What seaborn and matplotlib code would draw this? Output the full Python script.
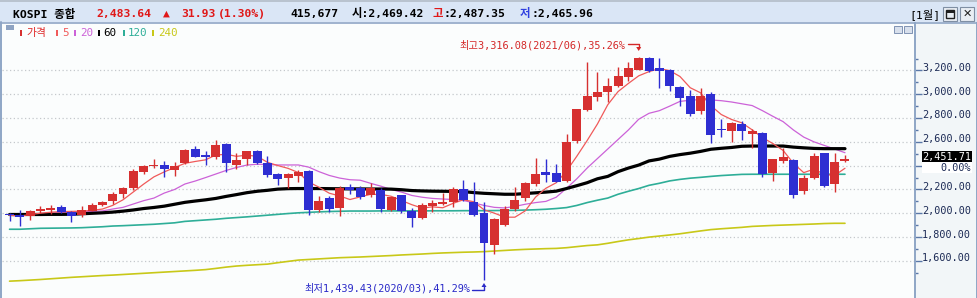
import numpy as np
import pandas as pd
import matplotlib
matplotlib.use('Agg')
import matplotlib.pyplot as plt
import seaborn as sns
from matplotlib.patches import Rectangle, Polygon
from matplotlib.lines import Line2D
import matplotlib.transforms as mtrans

# ---------------- data (monthly KOSPI candles 2016/05 .. 2023/02) ----------------
months = pd.period_range('2016-05', '2023-02', freq='M').strftime('%Y/%m').tolist()

open_ = [1994, 1983, 1975, 2019, 2030, 2055, 2013, 1986, 2019, 2070,
         2106, 2162, 2215, 2350, 2397, 2405, 2364, 2425, 2540, 2490,
         2476, 2582, 2408, 2454, 2523, 2425, 2330, 2299, 2313, 2355,
         2028, 2126, 2047, 2218, 2215, 2156, 2196, 2028, 2151, 2022,
         1963, 2064, 2078, 2097, 2204, 2097, 2000, 1736, 1902, 2034,
         2131, 2244, 2347, 2341, 2271, 2610, 2868, 2979, 3019, 3072,
         3147, 3204, 3307, 3220, 3204, 3061, 2985, 2859, 3002, 2708,
         2694, 2750, 2666, 2672, 2341, 2442, 2448, 2190, 2299, 2504,
         2249, 2442]
high = [2000, 2030, 2030, 2063, 2073, 2069, 2020, 2061, 2088, 2100,
        2178, 2220, 2372, 2408, 2454, 2439, 2430, 2540, 2565, 2523,
        2616, 2593, 2509, 2525, 2530, 2481, 2335, 2335, 2364, 2360,
        2145, 2145, 2229, 2246, 2228, 2252, 2210, 2140, 2155, 2042,
        2090, 2112, 2173, 2224, 2280, 2263, 2097, 1958, 2061, 2218,
        2260, 2462, 2456, 2418, 2664, 2880, 3273, 3189, 3134, 3226,
        3268, 3316.08, 3311, 3302, 3215, 3069, 3036, 3052, 3018, 2790,
        2769, 2773, 2706, 2680, 2460, 2546, 2456, 2319, 2504, 2506,
        2504, 2490]
low = [1937, 1892, 1945, 2000, 1995, 2000, 1931, 1967, 2016, 2061,
       2075, 2125, 2196, 2332, 2383, 2307, 2310, 2415, 2470, 2406,
       2457, 2350, 2370, 2406, 2412, 2305, 2238, 2215, 2266, 1986,
       2013, 2011, 1980, 2162, 2122, 2134, 2013, 2020, 2000, 1888,
       1950, 2013, 2070, 2055, 2100, 1980, 1439.43, 1658, 1890, 2020,
       2100, 2230, 2265, 2260, 2265, 2590, 2860, 2946, 2932, 3058,
       3111, 3200, 3190, 3050, 3030, 2901, 2820, 2834, 2593, 2643,
       2602, 2616, 2546, 2307, 2274, 2420, 2131, 2165, 2290, 2225,
       2181, 2433]
close = [1983, 1970, 2016, 2034, 2043, 2008, 1980, 2026, 2067, 2097,
         2162, 2215, 2355, 2397, 2402, 2370, 2397, 2532, 2476, 2470,
         2574, 2425, 2448, 2523, 2425, 2322, 2288, 2330, 2347, 2028,
         2103, 2036, 2215, 2196, 2139, 2210, 2036, 2134, 2019, 1963,
         2067, 2089, 2095, 2204, 2112, 1986, 1753, 1952, 2034, 2112,
         2252, 2330, 2324, 2265, 2602, 2876, 2988, 3021, 3072, 3156,
         3218, 3307, 3198, 3198, 3072, 2971, 2834, 2985, 2658, 2702,
         2761, 2694, 2691, 2330, 2456, 2470, 2154, 2297, 2481, 2229,
         2431, 2454]
ma20 = [1990, 1992, 1995, 1998, 2002, 2006, 2010, 2014, 2016, 2020,
        2036, 2050, 2078, 2106, 2128, 2170, 2200, 2246, 2271, 2300,
        2330, 2360, 2385, 2405, 2412, 2410, 2406, 2406, 2406, 2388,
        2350, 2318, 2296, 2282, 2278, 2252, 2228, 2200, 2178, 2150,
        2135, 2125, 2120, 2116, 2108, 2088, 2066, 2050, 2045, 2058,
        2076, 2090, 2100, 2135, 2210, 2290, 2380, 2460, 2540, 2620,
        2700, 2790, 2840, 2862, 2900, 2940, 2950, 2955, 2952, 2946,
        2935, 2920, 2905, 2862, 2815, 2770, 2700, 2640, 2600, 2570,
        2540, 2509]
ma60 = [1990, 1990, 1990, 1990, 1991, 1991, 1992, 1996, 2000, 2004,
        2010, 2018, 2028, 2040, 2049, 2060, 2076, 2092, 2103, 2113,
        2125, 2142, 2157, 2173, 2185, 2193, 2203, 2207, 2208, 2208,
        2208, 2207, 2206, 2205, 2205, 2204, 2204, 2203, 2198, 2191,
        2188, 2186, 2185, 2184, 2182, 2174, 2168, 2164, 2160, 2160,
        2166, 2172, 2178, 2186, 2208, 2232, 2257, 2290, 2310, 2350,
        2380, 2405, 2440, 2455, 2478, 2493, 2505, 2520, 2538, 2546,
        2553, 2563, 2565, 2565, 2565, 2565, 2556, 2550, 2545, 2543,
        2543, 2543]
ma120 = [1866, 1866, 1870, 1874, 1875, 1876, 1877, 1879, 1883, 1887,
         1893, 1896, 1900, 1904, 1908, 1914, 1920, 1932, 1938, 1944,
         1950, 1958, 1964, 1970, 1977, 1984, 1991, 1998, 2004, 2008,
         2012, 2015, 2017, 2019, 2019, 2019, 2020, 2020, 2020, 2020,
         2020, 2021, 2021, 2021, 2022, 2022, 2022, 2023, 2024, 2025,
         2027, 2030, 2034, 2040, 2048, 2066, 2090, 2110, 2128, 2160,
         2185, 2208, 2235, 2252, 2272, 2285, 2295, 2302, 2310, 2317,
         2322, 2327, 2328, 2328, 2328, 2328, 2328, 2328, 2328, 2328,
         2328, 2328]
ma240 = [1430, 1434, 1439, 1444, 1450, 1456, 1462, 1467, 1472, 1477,
         1481, 1486, 1491, 1496, 1501, 1506, 1511, 1516, 1521, 1527,
         1537, 1548, 1557, 1563, 1568, 1573, 1585, 1596, 1607, 1612,
         1617, 1622, 1627, 1630, 1633, 1637, 1641, 1645, 1650, 1654,
         1658, 1663, 1667, 1670, 1673, 1675, 1678, 1683, 1688, 1693,
         1697, 1700, 1703, 1705, 1711, 1720, 1729, 1735, 1748, 1763,
         1777, 1788, 1800, 1809, 1818, 1828, 1840, 1852, 1863, 1870,
         1876, 1882, 1890, 1894, 1898, 1901, 1904, 1907, 1910, 1914,
         1916, 1916]

axis_labels = [1600, 1800, 2000, 2200, 2600, 2800, 3000, 3200]
grid_levels = [1600, 1800, 2000, 2200, 2400, 2600, 2800, 3000, 3200]
prev_close = 2451.71
hdr_name = 'KOSPI 종합'
hdr_price = '2,483.64'
hdr_change = '31.93'
hdr_pct = '(1.30%)'
hdr_volume = '415,677'
hdr_open = '2,469.42'
hdr_high = '2,487.35'
hdr_low = '2,465.96'
legend_items = ['가격', '5', '20', '60', '120', '240']

# ---------------- style ----------------
RED = '#d63030'
BLUE = '#2e2ed2'
C_MA5 = '#f05a5a'
C_MA20 = '#cc62d8'
C_MA60 = '#000000'
C_MA120 = '#2eae98'
C_MA240 = '#c8c818'
NAVY = '#1c2a55'
BORDER = '#8fa6c6'

sns.set_theme(style='white')
plt.rcParams['font.family'] = ['DejaVu Sans Mono', 'Noto Sans CJK KR']

W, H = 977, 298
fig = plt.figure(figsize=(W / 100, H / 100), dpi=100)
fig.patch.set_facecolor('#fbfdfd')


def fx(px):
    return px / W


def fy(py):
    return 1 - py / H


PLOT_L, PLOT_R, PLOT_T = 2, 915, 23
ax = fig.add_axes([fx(PLOT_L), 0, fx(PLOT_R - PLOT_L), (H - PLOT_T) / H])
ax.set_facecolor('#fbfdfd')

# scale: 2000 at pixel row 213.3, 8.4 points per pixel; candle i at x = 9.55 + 10.314 i
PX = 8.4
Y0_PIX = 213.3
ymin = 2000 - (H - Y0_PIX) * PX
ymax = 2000 + (Y0_PIX - PLOT_T) * PX
STEP, X0 = 10.314, 9.55
ax.set_xlim((PLOT_L - X0) / STEP, (PLOT_R - X0) / STEP)
ax.set_ylim(ymin, ymax)

for v in grid_levels:
    ax.axhline(v, color='#c4c8cc', lw=0.9, ls=(0, (1, 2)), zorder=1)

idx = np.arange(len(months))
o = np.array(open_, float)
h = np.array(high, float)
l = np.array(low, float)
c = np.array(close, float)
ma5 = pd.Series(c).rolling(5, min_periods=1).mean().values

sns.lineplot(x=idx, y=np.array(ma240), ax=ax, color=C_MA240, lw=1.2, zorder=2)
sns.lineplot(x=idx, y=np.array(ma120), ax=ax, color=C_MA120, lw=1.2, zorder=2)
sns.lineplot(x=idx, y=np.array(ma20), ax=ax, color=C_MA20, lw=0.9, zorder=2)
sns.lineplot(x=idx, y=np.array(ma60), ax=ax, color=C_MA60, lw=2.3, zorder=2)
sns.lineplot(x=idx, y=ma5, ax=ax, color=C_MA5, lw=0.9, zorder=2)

up = c >= o
cols = np.where(up, RED, BLUE)
body_lo = np.minimum(o, c)
body_h = np.maximum(np.abs(c - o), PX * 1.0)
ax.vlines(idx, l, h, colors=cols, lw=1.0, zorder=3)
ax.bar(idx, body_h, bottom=body_lo, width=0.87, color=cols, linewidth=0, zorder=4)

for s in ax.spines.values():
    s.set_visible(False)
ax.set_xticks([])
ax.set_yticks([])

# ---------------- right price axis panel ----------------
ax2 = fig.add_axes([fx(915), 0, fx(W - 915), (H - PLOT_T) / H])
ax2.set_facecolor('#f2f6f8')
ax2.set_ylim(ymin, ymax)
ax2.set_xlim(0, 1)
ax2.set_xticks([])
ax2.set_yticks(grid_levels)
ax2.set_yticks([v + 100 for v in [1400] + grid_levels], minor=True)
ax2.tick_params(axis='y', which='major', direction='in', length=5, width=1,
                color='#5a78a8', left=True, right=False, labelleft=False)
ax2.tick_params(axis='y', which='minor', direction='in', length=2.5, width=1,
                color='#5a78a8', left=True, right=False, labelleft=False)
for k, s in ax2.spines.items():
    if k in ('left', 'right'):
        s.set_visible(True)
        s.set_color(BORDER)
        s.set_linewidth(1.4)
    else:
        s.set_visible(False)

blend = mtrans.blended_transform_factory(ax2.transAxes, ax2.transData)
lift = mtrans.ScaledTranslation(0, 2.6 / 100, fig.dpi_scale_trans)
for v in axis_labels:
    ax2.text(0.905, v, f'{v:,.2f}', transform=blend + lift, ha='right', va='center',
             fontsize=7.3, color=NAVY)

box_c = prev_close + 2.6 * PX
ax2.add_patch(Rectangle((7 / 62, box_c - 5.5 * PX), 50 / 62, 11 * PX, transform=blend,
                        facecolor='black', edgecolor='none', zorder=5))
ax2.text(0.905, box_c, f'{prev_close:,.2f}', transform=blend, ha='right', va='center',
         fontsize=7.3, color='white', zorder=6)
ax2.add_patch(Rectangle((7 / 62, box_c - 16 * PX), 50 / 62, 10.5 * PX, transform=blend,
                        facecolor='white', edgecolor='none', zorder=5))
ax2.text(0.905, box_c - 10.8 * PX, '0.00%', transform=blend, ha='right', va='center',
         fontsize=7.3, color=NAVY, zorder=6)

# ---------------- header bar ----------------
fig.patches.append(Rectangle((0, fy(22)), 1, 20 / H, transform=fig.transFigure,
                             facecolor='#dae6f6', edgecolor='none', zorder=0))
fig.patches.append(Rectangle((0, fy(2)), 1, 2 / H, transform=fig.transFigure,
                             facecolor='#b9c3cf', edgecolor='none', zorder=0))
fig.lines.append(Line2D([0, 1], [fy(22.5), fy(22.5)], transform=fig.transFigure,
                        color=BORDER, lw=1.2))
fig.lines.append(Line2D([fx(0.7), fx(0.7)], [0, fy(22)], transform=fig.transFigure,
                        color=BORDER, lw=1.4))

hy = fy(14)
hk = dict(fontsize=8.2, fontweight='bold', va='center', ha='left')
fig.text(fx(12.7), hy, hdr_name, color='black', **hk)
fig.text(fx(96.7), hy, hdr_price, color='#e01818', **hk)
fig.text(fx(163), hy, '▲', color='#e01818', **hk)
fig.text(fx(181.7), hy, hdr_change, color='#e01818', **hk)
fig.text(fx(218.3), hy, hdr_pct, color='#e01818', **hk)
fig.text(fx(290), hy, hdr_volume, color='black', **hk)
fig.text(fx(351.7), hy, '시:' + hdr_open, color='black', **hk)
fig.text(fx(433), hy, '고', color='#e01818', **hk)
fig.text(fx(444), hy, ':' + hdr_high, color='black', **hk)
fig.text(fx(520), hy, '저', color='#3040e0', **hk)
fig.text(fx(531), hy, ':' + hdr_low, color='black', **hk)
fig.text(fx(909), hy, '[1월]', color='black', fontsize=8.2, va='center', ha='left')

for bx in (943, 960):
    fig.patches.append(Rectangle((fx(bx), fy(21)), fx(14), 14 / H, transform=fig.transFigure,
                                 facecolor='#e9eef4', edgecolor='#7f8fa4', lw=0.8, zorder=2))
fig.patches.append(Rectangle((fx(946), fy(17.5)), fx(8), 7 / H, transform=fig.transFigure,
                             facecolor='none', edgecolor='#202020', lw=1.0, zorder=3))
fig.patches.append(Rectangle((fx(946), fy(12.5)), fx(8), 2 / H, transform=fig.transFigure,
                             facecolor='#202020', edgecolor='none', zorder=3))
fig.text(fx(967), fy(14), '✕', color='#202020', fontsize=8, fontweight='bold',
         ha='center', va='center', family='DejaVu Sans')

# small chart buttons in plot area
for bx in (894, 904):
    fig.patches.append(Rectangle((fx(bx), fy(33)), fx(8), 7 / H, transform=fig.transFigure,
                                 facecolor='#d8e0ec', edgecolor='#7f93b3', lw=0.7, zorder=2))

# ---------------- legend row ----------------
fig.patches.append(Rectangle((fx(6), fy(29.5)), fx(8), 4.5 / H, transform=fig.transFigure,
                             facecolor='#8ea3c2', edgecolor='none', zorder=2))
leg_cols = [RED, C_MA5, C_MA20, C_MA60, C_MA120, C_MA240]
leg_bar_x = [20, 56, 74, 98, 123, 152]
leg_txt_x = [26, 62, 80, 103, 128, 158]
for name, col, bx, tx in zip(legend_items, leg_cols, leg_bar_x, leg_txt_x):
    fig.patches.append(Rectangle((fx(bx), fy(36)), fx(2.2), 6 / H, transform=fig.transFigure,
                                 facecolor=col, edgecolor='none', zorder=2))
    tcol = '#e02828' if name == '가격' else col
    fig.text(fx(tx), fy(33), name, color=tcol, fontsize=7.8, va='center', ha='left')

# ---------------- max / min annotations ----------------
imax = int(np.argmax(h))
imin = int(np.argmin(l))
pct_hi = (h[imax] - prev_close) / prev_close * 100
pct_lo = (prev_close - l[imin]) / prev_close * 100
ANN_R = '#d42828'
ANN_B = '#2a2ac8'
hi_x = X0 + STEP * imax
lo_x = X0 + STEP * imin
fig.text(fx(hi_x - 13), fy(45.7), f'최고{h[imax]:,.2f}({months[imax]}),{pct_hi:.2f}%',
         color=ANN_R, fontsize=7.4, ha='right', va='center')
fig.lines.append(Line2D([fx(hi_x - 11), fx(hi_x), fx(hi_x)], [fy(44), fy(44), fy(48)],
                        transform=fig.transFigure, color=ANN_R, lw=1.0))
fig.patches.append(Polygon([(fx(hi_x - 2.5), fy(47)), (fx(hi_x + 2.5), fy(47)), (fx(hi_x), fy(51))],
                           closed=True, transform=fig.transFigure, facecolor=ANN_R,
                           edgecolor='none', zorder=3))
fig.text(fx(lo_x - 14), fy(288.5), f'최저{l[imin]:,.2f}({months[imin]}),{pct_lo:.2f}%',
         color=ANN_B, fontsize=7.4, ha='right', va='center')
fig.lines.append(Line2D([fx(lo_x - 12), fx(lo_x), fx(lo_x)], [fy(290), fy(290), fy(286)],
                        transform=fig.transFigure, color=ANN_B, lw=1.0))
fig.patches.append(Polygon([(fx(lo_x - 2.5), fy(287)), (fx(lo_x + 2.5), fy(287)), (fx(lo_x), fy(283))],
                           closed=True, transform=fig.transFigure, facecolor=ANN_B,
                           edgecolor='none', zorder=3))

fig.savefig('out.png', dpi=100)
